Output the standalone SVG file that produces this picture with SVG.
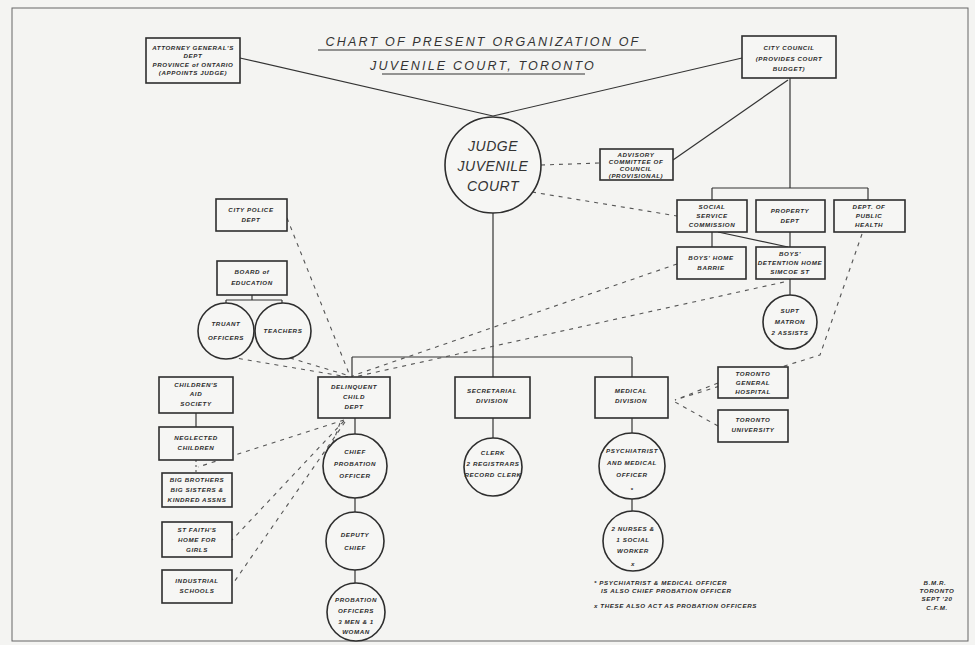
<svg xmlns="http://www.w3.org/2000/svg" width="975" height="645" viewBox="0 0 975 645">
<style>
.bg{fill:#f4f4f2}
.box{fill:#f6f6f4;stroke:#2e2e2e;stroke-width:1.6}
.cir{fill:#f6f6f4;stroke:#2e2e2e;stroke-width:1.6}
.ln{fill:none;stroke:#333;stroke-width:1.2}
.dl{fill:none;stroke:#555;stroke-width:1.1;stroke-dasharray:4 5}
.t{font-family:"Liberation Sans",Arial,sans-serif;font-style:italic;font-weight:bold;font-size:6.2px;fill:#2a2a2a;text-anchor:middle;letter-spacing:0.6px}
.ti{font-family:"Liberation Sans",Arial,sans-serif;font-style:italic;font-size:12.5px;fill:#333;text-anchor:middle;letter-spacing:2.2px}
.jt{font-family:"Liberation Sans",Arial,sans-serif;font-style:italic;font-size:14px;fill:#333;text-anchor:middle;letter-spacing:0.5px}
</style>
<rect class="bg" x="0" y="0" width="975" height="645"/>
<rect x="12" y="8" width="956" height="633" fill="none" stroke="#666" stroke-width="1"/>

<g id="title">
<text class="ti" x="483" y="46">CHART OF PRESENT ORGANIZATION OF</text>
<line class="ln" x1="318" y1="50" x2="646" y2="50"/>
<text class="ti" x="483" y="70">JUVENILE COURT, TORONTO</text>
<line class="ln" x1="382" y1="74" x2="585" y2="74"/>
</g>

<g id="connectors">
<!-- solid -->
<line class="ln" x1="240" y1="58" x2="493" y2="116"/>
<line class="ln" x1="742" y1="58" x2="493" y2="116"/>
<line class="ln" x1="790" y1="78" x2="790" y2="188"/>
<line class="ln" x1="788" y1="80" x2="673" y2="160"/>
<line class="ln" x1="712" y1="188" x2="868" y2="188"/>
<line class="ln" x1="712" y1="188" x2="712" y2="200"/>
<line class="ln" x1="868" y1="188" x2="868" y2="200"/>
<line class="ln" x1="712" y1="232" x2="712" y2="247"/>
<line class="ln" x1="718" y1="232" x2="788" y2="247"/>
<line class="ln" x1="790" y1="232" x2="790" y2="247"/>
<line class="ln" x1="790" y1="279" x2="790" y2="295"/>
<line class="ln" x1="493" y1="213" x2="493" y2="377"/>
<line class="ln" x1="352" y1="357" x2="632" y2="357"/>
<line class="ln" x1="352" y1="357" x2="352" y2="377"/>
<line class="ln" x1="632" y1="357" x2="632" y2="377"/>
<line class="ln" x1="252" y1="295" x2="252" y2="300"/>
<line class="ln" x1="226" y1="300" x2="282" y2="300"/>
<line class="ln" x1="226" y1="300" x2="226" y2="303"/>
<line class="ln" x1="282" y1="300" x2="282" y2="303"/>
<line class="ln" x1="355" y1="418" x2="355" y2="434"/>
<line class="ln" x1="355" y1="498" x2="355" y2="512"/>
<line class="ln" x1="355" y1="570" x2="355" y2="583"/>
<line class="ln" x1="493" y1="418" x2="493" y2="438"/>
<line class="ln" x1="632" y1="418" x2="632" y2="433"/>
<line class="ln" x1="632" y1="499" x2="632" y2="511"/>
<line class="ln" x1="196" y1="413" x2="196" y2="427"/>
<line class="dl" x1="196" y1="460" x2="196" y2="473" style="stroke-dasharray:2 3"/>
<!-- dashed -->
<line class="dl" x1="541" y1="165" x2="600" y2="163"/>
<line class="dl" x1="532" y1="192" x2="677" y2="216"/>
<line class="dl" x1="287" y1="218" x2="350" y2="376"/>
<line class="dl" x1="230" y1="357" x2="348" y2="377"/>
<line class="dl" x1="290" y1="358" x2="350" y2="376"/>
<line class="dl" x1="677" y1="264" x2="352" y2="376"/>
<line class="dl" x1="784" y1="282" x2="354" y2="377"/>
<polyline class="dl" points="862,234 820,355 675,400"/>
<line class="dl" x1="718" y1="383" x2="675" y2="400"/>
<line class="dl" x1="718" y1="426" x2="675" y2="402"/>
<line class="dl" x1="344" y1="420" x2="198" y2="467"/>
<line class="dl" x1="344" y1="421" x2="232" y2="540"/>
<line class="dl" x1="345" y1="422" x2="232" y2="585"/>
<line class="dl" x1="340" y1="423" x2="323" y2="470"/>
</g>

<g id="attorney">
<rect class="box" x="146" y="38" width="94" height="45"/>
<text class="t" x="193" y="50">ATTORNEY GENERAL'S</text>
<text class="t" x="193" y="58">DEPT</text>
<text class="t" x="193" y="67">PROVINCE of ONTARIO</text>
<text class="t" x="193" y="75">(APPOINTS JUDGE)</text>
</g>
<g id="council">
<rect class="box" x="742" y="36" width="94" height="42"/>
<text class="t" x="789" y="50">CITY COUNCIL</text>
<text class="t" x="789" y="61">(PROVIDES COURT</text>
<text class="t" x="789" y="71">BUDGET)</text>
</g>
<g id="judge">
<circle class="cir" cx="493" cy="165" r="48"/>
<text class="jt" x="493" y="151">JUDGE</text>
<text class="jt" x="493" y="171">JUVENILE</text>
<text class="jt" x="493" y="191">COURT</text>
</g>
<g id="advisory">
<rect class="box" x="600" y="149" width="73" height="31"/>
<text class="t" x="636" y="157">ADVISORY</text>
<text class="t" x="636" y="164">COMMITTEE OF</text>
<text class="t" x="636" y="171">COUNCIL</text>
<text class="t" x="636" y="178">(PROVISIONAL)</text>
</g>
<g id="social">
<rect class="box" x="677" y="200" width="70" height="32"/>
<text class="t" x="712" y="209">SOCIAL</text>
<text class="t" x="712" y="218">SERVICE</text>
<text class="t" x="712" y="227">COMMISSION</text>
</g>
<g id="property">
<rect class="box" x="756" y="200" width="69" height="32"/>
<text class="t" x="790" y="213">PROPERTY</text>
<text class="t" x="790" y="223">DEPT</text>
</g>
<g id="health">
<rect class="box" x="834" y="200" width="71" height="32"/>
<text class="t" x="869" y="209">DEPT. OF</text>
<text class="t" x="869" y="218">PUBLIC</text>
<text class="t" x="869" y="227">HEALTH</text>
</g>
<g id="boyshome">
<rect class="box" x="677" y="247" width="69" height="32"/>
<text class="t" x="711" y="260">BOYS' HOME</text>
<text class="t" x="711" y="270">BARRIE</text>
</g>
<g id="detention">
<rect class="box" x="756" y="247" width="69" height="32"/>
<text class="t" x="790" y="256">BOYS'</text>
<text class="t" x="790" y="265">DETENTION HOME</text>
<text class="t" x="790" y="274">SIMCOE ST</text>
</g>
<g id="supt">
<circle class="cir" cx="790" cy="322" r="27"/>
<text class="t" x="790" y="313">SUPT</text>
<text class="t" x="790" y="324">MATRON</text>
<text class="t" x="790" y="335">2 ASSISTS</text>
</g>
<g id="police">
<rect class="box" x="216" y="199" width="71" height="32"/>
<text class="t" x="251" y="212">CITY POLICE</text>
<text class="t" x="251" y="222">DEPT</text>
</g>
<g id="education">
<rect class="box" x="217" y="261" width="70" height="34"/>
<text class="t" x="252" y="274">BOARD of</text>
<text class="t" x="252" y="285">EDUCATION</text>
</g>
<g id="truant">
<circle class="cir" cx="226" cy="331" r="28"/>
<text class="t" x="226" y="326">TRUANT</text>
<text class="t" x="226" y="340">OFFICERS</text>
</g>
<g id="teachers">
<circle class="cir" cx="283" cy="331" r="28"/>
<text class="t" x="283" y="333">TEACHERS</text>
</g>
<g id="delinquent">
<rect class="box" x="318" y="377" width="72" height="41"/>
<text class="t" x="354" y="389">DELINQUENT</text>
<text class="t" x="354" y="399">CHILD</text>
<text class="t" x="354" y="409">DEPT</text>
</g>
<g id="secretarial">
<rect class="box" x="455" y="377" width="75" height="41"/>
<text class="t" x="492" y="393">SECRETARIAL</text>
<text class="t" x="492" y="403">DIVISION</text>
</g>
<g id="medical">
<rect class="box" x="595" y="377" width="73" height="41"/>
<text class="t" x="631" y="393">MEDICAL</text>
<text class="t" x="631" y="403">DIVISION</text>
</g>
<g id="toronto-general">
<rect class="box" x="718" y="367" width="70" height="31"/>
<text class="t" x="753" y="376">TORONTO</text>
<text class="t" x="753" y="385">GENERAL</text>
<text class="t" x="753" y="394">HOSPITAL</text>
</g>
<g id="toronto-university">
<rect class="box" x="718" y="410" width="70" height="32"/>
<text class="t" x="753" y="422">TORONTO</text>
<text class="t" x="753" y="432">UNIVERSITY</text>
</g>
<g id="chief">
<circle class="cir" cx="355" cy="466" r="32"/>
<text class="t" x="355" y="454">CHIEF</text>
<text class="t" x="355" y="466">PROBATION</text>
<text class="t" x="355" y="478">OFFICER</text>
</g>
<g id="deputy">
<circle class="cir" cx="355" cy="541" r="29"/>
<text class="t" x="355" y="537">DEPUTY</text>
<text class="t" x="355" y="550">CHIEF</text>
</g>
<g id="probation-officers">
<circle class="cir" cx="356" cy="612" r="29"/>
<text class="t" x="356" y="602">PROBATION</text>
<text class="t" x="356" y="613">OFFICERS</text>
<text class="t" x="356" y="624">3 MEN &amp; 1</text>
<text class="t" x="356" y="634">WOMAN</text>
</g>
<g id="clerk">
<circle class="cir" cx="493" cy="467" r="29"/>
<text class="t" x="493" y="455">CLERK</text>
<text class="t" x="493" y="466">2 REGISTRARS</text>
<text class="t" x="493" y="477">RECORD CLERK</text>
</g>
<g id="psychiatrist">
<circle class="cir" cx="632" cy="466" r="33"/>
<text class="t" x="632" y="453">PSYCHIATRIST</text>
<text class="t" x="632" y="465">AND MEDICAL</text>
<text class="t" x="632" y="477">OFFICER</text>
<text class="t" x="632" y="492">*</text>
</g>
<g id="nurses">
<circle class="cir" cx="633" cy="541" r="30"/>
<text class="t" x="633" y="531">2 NURSES &amp;</text>
<text class="t" x="633" y="542">1 SOCIAL</text>
<text class="t" x="633" y="553">WORKER</text>
<text class="t" x="633" y="566">x</text>
</g>
<g id="childrens-aid">
<rect class="box" x="159" y="377" width="74" height="36"/>
<text class="t" x="196" y="387">CHILDREN'S</text>
<text class="t" x="196" y="396">AID</text>
<text class="t" x="196" y="406">SOCIETY</text>
</g>
<g id="neglected">
<rect class="box" x="159" y="427" width="74" height="33"/>
<text class="t" x="196" y="440">NEGLECTED</text>
<text class="t" x="196" y="450">CHILDREN</text>
</g>
<g id="big-brothers">
<rect class="box" x="162" y="473" width="70" height="34"/>
<text class="t" x="197" y="482">BIG BROTHERS</text>
<text class="t" x="197" y="492">BIG SISTERS &amp;</text>
<text class="t" x="197" y="502">KINDRED ASSNS</text>
</g>
<g id="st-faiths">
<rect class="box" x="162" y="522" width="70" height="35"/>
<text class="t" x="197" y="532">ST FAITH'S</text>
<text class="t" x="197" y="542">HOME FOR</text>
<text class="t" x="197" y="552">GIRLS</text>
</g>
<g id="industrial">
<rect class="box" x="162" y="570" width="70" height="33"/>
<text class="t" x="197" y="583">INDUSTRIAL</text>
<text class="t" x="197" y="593">SCHOOLS</text>
</g>
<g id="notes">
<text class="t" x="594" y="585" style="text-anchor:start">* PSYCHIATRIST &amp; MEDICAL OFFICER</text>
<text class="t" x="601" y="593" style="text-anchor:start">IS ALSO CHIEF PROBATION OFFICER</text>
<text class="t" x="594" y="608" style="text-anchor:start">x THESE ALSO ACT AS PROBATION OFFICERS</text>
<text class="t" x="935" y="585">B.M.R.</text>
<text class="t" x="937" y="593">TORONTO</text>
<text class="t" x="937" y="601">SEPT '20</text>
<text class="t" x="937" y="610">C.F.M.</text>
</g>
</svg>
